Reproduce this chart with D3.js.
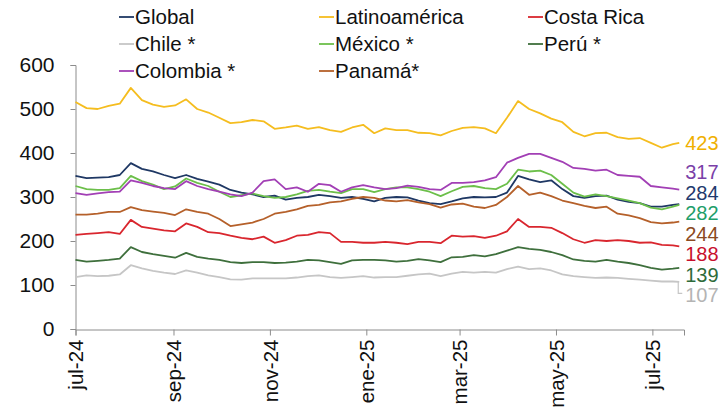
<!DOCTYPE html>
<html>
<head>
<meta charset="utf-8">
<script src="https://cdn.jsdelivr.net/npm/d3@7"></script>
<style>
  body { margin: 0; background: #fff; }
  text { font-family: "Liberation Sans", Arial, sans-serif; }
</style>
</head>
<body>
<div id="chart"></div>
<script>
// weekly readings of the daily series
const dates = [
  "2024-07-01","2024-07-08","2024-07-15","2024-07-22","2024-07-29","2024-08-05","2024-08-12","2024-08-19",
  "2024-08-26","2024-09-02","2024-09-09","2024-09-16","2024-09-23","2024-09-30","2024-10-07","2024-10-14",
  "2024-10-21","2024-10-28","2024-11-04","2024-11-11","2024-11-18","2024-11-25","2024-12-02","2024-12-09",
  "2024-12-16","2024-12-23","2024-12-30","2025-01-06","2025-01-13","2025-01-20","2025-01-27","2025-02-03",
  "2025-02-10","2025-02-17","2025-02-24","2025-03-03","2025-03-10","2025-03-17","2025-03-24","2025-03-31",
  "2025-04-07","2025-04-14","2025-04-21","2025-04-28","2025-05-05","2025-05-12","2025-05-19","2025-05-26",
  "2025-06-02","2025-06-09","2025-06-16","2025-06-23","2025-06-30","2025-07-07","2025-07-14","2025-07-18"
];

const global = [348,343,344,345,350,377,364,358,350,343,350,341,335,328,316,310,306,300,303,294,298,300,305,302,298,300,296,290,
  298,300,299,292,286,284,290,297,300,299,300,310,348,340,334,338,318,302,298,302,303,294,289,286,278,278,282,284];
const latam = [516,502,500,507,512,548,520,510,505,508,522,500,492,480,468,470,475,472,455,458,462,455,459,452,448,458,464,445,
  456,452,452,446,445,440,450,457,459,456,445,480,518,500,490,478,470,448,438,445,446,436,432,434,423,412,420,423];
const costaRica = [214,216,218,220,216,248,232,228,224,222,240,232,220,218,212,207,204,210,196,202,212,214,220,218,198,198,196,196,
  198,196,193,198,198,195,212,210,211,207,212,222,250,232,232,230,218,204,196,202,200,202,200,196,197,191,190,188];
const chile = [118,122,120,121,124,145,138,132,128,125,133,128,122,118,113,112,115,115,115,115,117,120,122,118,116,118,120,117,
  118,118,121,124,126,120,126,130,128,130,128,136,142,136,138,133,124,120,118,116,117,116,114,112,110,108,108,107];
const mexico = [325,318,316,316,320,348,336,328,318,324,342,332,325,312,300,304,308,302,298,300,306,314,316,312,309,318,318,311,
  318,322,322,318,312,302,313,323,325,320,318,330,362,358,360,350,330,310,301,306,302,297,292,286,276,272,278,282];
const peru = [157,153,155,157,160,186,175,170,166,162,173,164,160,157,152,150,152,152,150,151,153,157,156,152,148,156,157,157,
  156,153,155,159,156,152,163,164,168,165,170,178,186,182,180,175,168,158,155,153,157,153,150,145,139,135,137,139];
const colombia = [309,305,308,311,312,338,332,325,320,318,336,325,318,312,306,302,310,336,340,318,322,312,330,327,312,322,327,322,
  318,320,326,323,318,316,332,332,334,338,345,378,389,398,398,389,380,366,364,360,362,350,348,346,325,322,319,317];
const panama = [260,260,262,266,266,277,270,267,264,259,272,266,262,250,234,238,242,250,262,266,272,280,282,288,290,296,300,298,
  292,290,293,288,284,276,283,285,278,275,282,300,325,305,310,302,292,286,280,275,278,262,258,252,243,240,242,244];

const seriesNames = ["Global","Latinoamérica","Costa Rica","Chile *","México *","Perú *","Colombia *","Panamá*"];
const seriesValues = [global, latam, costaRica, chile, mexico, peru, colombia, panama];
const lineColors = ["#1f3864","#f5bd1f","#d9262e","#c6c6c6","#6cbf4a","#3e6f3c","#a23fb5","#b5602a"];
const labelColors = ["#1f3a6e","#f0b000","#c8102e","#b4b4b4","#1e9e6a","#2e6b3a","#7a3fa8","#8b4a22"];

const tickDates = ["2024-07-01","2024-09-01","2024-11-01","2025-01-01","2025-03-01","2025-05-01","2025-07-01"];
const tickLabels = ["jul-24","sep-24","nov-24","ene-25","mar-25","may-25","jul-25"];
const yTicks = [0,100,200,300,400,500,600];

const W = 725, H = 407;
const parse = d3.timeParse("%Y-%m-%d");
const axisFont = 20.5;
const labelFont = 20;
const legendFont = 20.5;

const svg = d3.select("#chart").append("svg")
  .attr("width", W).attr("height", H);

const x = d3.scaleTime()
  .domain([parse("2024-07-01"), parse("2025-07-21")])
  .range([75.5, 684]);
const y = d3.scaleLinear().domain([0, 600]).range([329, 65]);

const axisColor = "#8c8c8c";

// y axis
const yAxis = svg.append("g")
  .attr("transform", "translate(75.5,0)")
  .call(d3.axisLeft(y).tickValues(yTicks).tickSize(5).tickPadding(16));
yAxis.select(".domain").attr("stroke", axisColor);
yAxis.selectAll(".tick line").attr("stroke", axisColor);
yAxis.selectAll("text").attr("font-size", 21).attr("fill", "#111")
  .attr("font-family", "Liberation Sans, Arial, sans-serif");

// x axis
const xAxis = svg.append("g")
  .attr("transform", "translate(0,329.5)")
  .call(d3.axisBottom(x).tickValues(tickDates.map(parse))
    .tickFormat((d, i) => tickLabels[i]).tickSizeOuter(0).tickSize(6));
xAxis.select(".domain").attr("stroke", axisColor);
xAxis.selectAll(".tick line").attr("stroke", axisColor);
xAxis.selectAll("text")
  .attr("font-size", axisFont).attr("fill", "#111")
  .attr("font-family", "Liberation Sans, Arial, sans-serif")
  .style("text-anchor", "end")
  .attr("transform", "rotate(-90)")
  .attr("x", -10).attr("y", 0).attr("dy", "0.35em");

// lines
const line = d3.line()
  .x((d, i) => x(parse(dates[i])))
  .y(d => y(d));

seriesValues.forEach((vals, k) => {
  svg.append("path")
    .datum(vals)
    .attr("fill", "none")
    .attr("stroke", lineColors[k])
    .attr("stroke-width", 1.8)
    .attr("stroke-linejoin", "round")
    .attr("d", line);
});

// end labels, spread apart so they do not overlap
const lastX = x(parse(dates[dates.length - 1]));
const labels = seriesValues.map((vals, k) => {
  const v = vals[vals.length - 1];
  return { k: k, v: v, y0: y(v), y: y(v) };
}).sort((a, b) => a.y0 - b.y0);

const gap = 20.5;
for (let iter = 0; iter < 200; iter++) {
  for (let i = 1; i < labels.length; i++) {
    const d = labels[i].y - labels[i - 1].y;
    if (d < gap) {
      const push = (gap - d) / 2;
      labels[i].y += push;
      labels[i - 1].y -= push;
    }
  }
}
// moved labels sit a little lower in the original
labels.forEach(l => { if (Math.abs(l.y - l.y0) > 1) l.y += 3; });

labels.forEach((l, i) => {
  // only the bottom label gets a leader in the original
  if (i === labels.length - 1 && l.y - l.y0 > 6) {
    svg.append("path")
      .attr("fill", "none")
      .attr("stroke", lineColors[l.k])
      .attr("stroke-width", 1.2)
      .attr("d", "M" + (lastX - 1) + "," + l.y0 + "V" + (l.y - 2) + "H" + (lastX + 3));
  }
  svg.append("text")
    .attr("x", lastX + 6)
    .attr("y", l.y)
    .attr("dy", "0.35em")
    .attr("font-size", labelFont)
    .attr("fill", labelColors[l.k])
    .text(l.v);
});

// legend
const legendCols = [119, 319, 528];
const legendRows = [17, 44, 71];
seriesNames.forEach((name, k) => {
  const lx = legendCols[k % 3];
  const ly = legendRows[Math.floor(k / 3)];
  const g = svg.append("g").attr("transform", "translate(" + lx + "," + ly + ")");
  g.append("line")
    .attr("x1", 0).attr("x2", 15)
    .attr("y1", 0).attr("y2", 0)
    .attr("stroke", lineColors[k]).attr("stroke-width", 1.8);
  g.append("text")
    .attr("x", 16).attr("y", 0).attr("dy", "0.35em")
    .attr("font-size", legendFont).attr("fill", "#111")
    .text(name);
});
</script>
</body>
</html>
